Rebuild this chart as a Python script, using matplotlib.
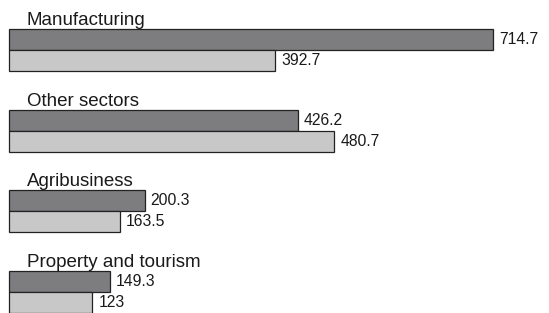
import matplotlib.pyplot as plt

# data
sectors = ["Manufacturing", "Other sectors", "Agribusiness", "Property and tourism"]
dark_vals = [714.7, 426.2, 200.3, 149.3]
light_vals = [392.7, 480.7, 163.5, 123]
dark_labels = ["714.7", "426.2", "200.3", "149.3"]
light_labels = ["392.7", "480.7", "163.5", "123"]

plt.rcParams['font.family'] = ['Liberation Sans', 'DejaVu Sans']

W, H = 549, 313
fig = plt.figure(figsize=(W / 100, H / 100), dpi=100)
ax = fig.add_axes([0, 0, 1, 1])

px_per_unit = 0.677   # horizontal scale
x0_px = 9             # left edge of bars
pitch = 80.7          # vertical distance between groups, px
bar_h = 21 / pitch
first_top = 29 / pitch

ax.set_xlim(-x0_px / px_per_unit, (W - x0_px) / px_per_unit)
ax.set_ylim(H / pitch, 0)

for i, name in enumerate(sectors):
    top = first_top + i
    yd = top + bar_h / 2
    yl = top + bar_h * 1.5
    ax.barh(yd, dark_vals[i], height=bar_h, color='#7d7d80',
            edgecolor='#222222', linewidth=0.9)
    ax.barh(yl, light_vals[i], height=bar_h, color='#c8c8c9',
            edgecolor='#222222', linewidth=0.9)
    ax.text(dark_vals[i] + 6 / px_per_unit, yd, dark_labels[i],
            va='center', ha='left', fontsize=11.3, color='#1a1a1a')
    ax.text(light_vals[i] + 6 / px_per_unit, yl, light_labels[i],
            va='center', ha='left', fontsize=11.3, color='#1a1a1a')
    ax.text(18 / px_per_unit, top - 4 / pitch, name, va='baseline',
            ha='left', fontsize=13.5, color='#1a1a1a')

ax.axis('off')
fig.savefig('out.png', dpi=100)
